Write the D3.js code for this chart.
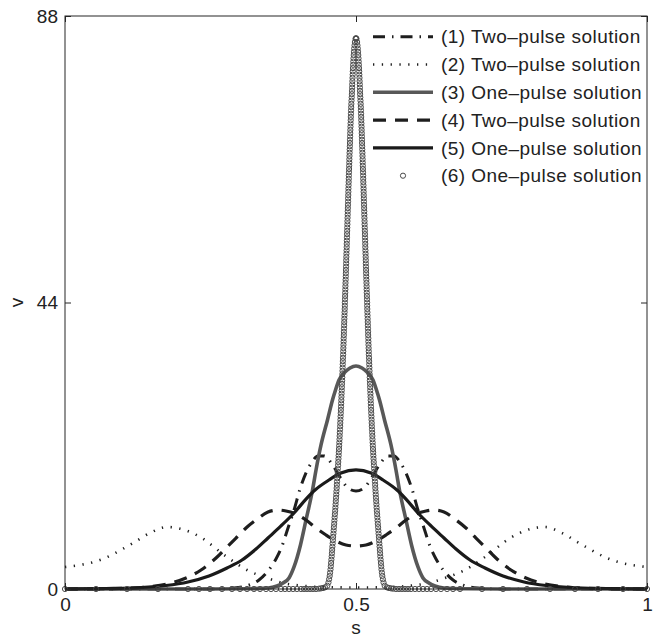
<!DOCTYPE html>
<html>
<head>
<meta charset="utf-8">
<script src="https://cdn.jsdelivr.net/npm/d3@7"></script>
<style>
  html, body { margin: 0; padding: 0; background: #fff; }
  svg { display: block; font-family: "Liberation Sans", Arial, Helvetica, sans-serif; }
</style>
</head>
<body>
<svg id="chart" width="657" height="638"></svg>
<script>
// ---- axis ticks ----
const xTicks = [0, 0.5, 1];
const xTickLabels = ["0", "0.5", "1"];
const yTicks = [0, 44, 88];
const yTickLabels = ["0", "44", "88"];

// ---- legend entries ----
const legendLabels = [
  "(1) Two\u2013pulse solution",
  "(2) Two\u2013pulse solution",
  "(3) One\u2013pulse solution",
  "(4) Two\u2013pulse solution",
  "(5) One\u2013pulse solution",
  "(6) One\u2013pulse solution"
];

// ---- profiles v(s), as [s, v] pairs ----
const twoPulse1 = [
  [0, 0], [0.2509, 0], [0.2904, 0.15], [0.3144, 0.54], [0.3333, 1.38], [0.3488, 2.76],
  [0.3625, 4.61], [0.3729, 6.60], [0.3832, 9.37], [0.3935, 12.13], [0.4038, 15.36],
  [0.4141, 17.82], [0.4244, 19.51], [0.4347, 20.43], [0.4450, 20.43], [0.4588, 19.20],
  [0.4725, 17.20], [0.4863, 15.51], [0.5, 15.05], [0.5137, 15.51], [0.5275, 17.20],
  [0.5412, 19.20], [0.5550, 20.43], [0.5653, 20.43], [0.5756, 19.51], [0.5859, 17.82],
  [0.5962, 15.36], [0.6065, 12.13], [0.6168, 9.37], [0.6271, 6.60], [0.6375, 4.61],
  [0.6512, 2.76], [0.6667, 1.38], [0.6856, 0.54], [0.7096, 0.15], [0.7491, 0], [1, 0]
];

const twoPulse2 = [
  [0, 3.38], [0.0601, 4.45], [0.1168, 7.06], [0.1460, 8.60], [0.1753, 9.52], [0.2062, 9.06],
  [0.2320, 7.99], [0.2784, 4.91], [0.3127, 2.92], [0.3471, 1.69], [0.3746, 0.92],
  [0.4038, 0.54], [0.4381, 0.31], [0.5, 0.23], [0.5619, 0.31], [0.5962, 0.54],
  [0.6254, 0.92], [0.6529, 1.69], [0.6873, 2.92], [0.7216, 4.91], [0.7680, 7.99],
  [0.7938, 9.06], [0.8247, 9.52], [0.8540, 8.60], [0.8832, 7.06], [0.9399, 4.45], [1, 3.38]
];

const onePulse3 = [
  [0, 0], [0.25, 0], [0.311, 0.03], [0.3488, 0.15], [0.3643, 0.46], [0.3746, 0.92],
  [0.3849, 1.69], [0.3935, 3.38], [0.4046, 6.76], [0.4141, 10.60], [0.4253, 15.20],
  [0.4313, 18.28], [0.4399, 22.12], [0.4510, 25.96], [0.4596, 29.03], [0.4648, 30.56],
  [0.4708, 32.10], [0.4811, 33.33], [0.4897, 33.94], [0.5, 34.25], [0.5103, 33.94],
  [0.5189, 33.33], [0.5292, 32.10], [0.5352, 30.56], [0.5404, 29.03], [0.5490, 25.96],
  [0.5601, 22.12], [0.5687, 18.28], [0.5747, 15.20], [0.5859, 10.60], [0.5954, 6.76],
  [0.6065, 3.38], [0.6151, 1.69], [0.6254, 0.92], [0.6357, 0.46], [0.6512, 0.15],
  [0.689, 0.03], [0.75, 0], [1, 0]
];

const twoPulse4 = [
  [0, 0], [0.0533, 0], [0.1048, 0.11], [0.1478, 0.38], [0.1821, 0.92], [0.2079, 1.69],
  [0.2337, 2.92], [0.2595, 4.76], [0.2766, 6.30], [0.2938, 7.83], [0.3110, 9.37],
  [0.3282, 10.60], [0.3488, 11.83], [0.3660, 12.13], [0.3797, 11.98], [0.3969, 11.52],
  [0.4141, 10.60], [0.4313, 9.37], [0.4485, 8.29], [0.4656, 7.37], [0.4828, 6.76],
  [0.5, 6.60], [0.5172, 6.76], [0.5344, 7.37], [0.5515, 8.29], [0.5687, 9.37],
  [0.5859, 10.60], [0.6031, 11.52], [0.6203, 11.98], [0.6340, 12.13], [0.6512, 11.83],
  [0.6718, 10.60], [0.6890, 9.37], [0.7062, 7.83], [0.7234, 6.30], [0.7405, 4.76],
  [0.7663, 2.92], [0.7921, 1.69], [0.8179, 0.92], [0.8522, 0.38], [0.8952, 0.11],
  [0.9467, 0], [1, 0]
];

const onePulse5 = [
  [0, 0], [0.0704, 0.08], [0.1306, 0.23], [0.1735, 0.54], [0.2113, 1.08], [0.2474, 2.0],
  [0.2784, 3.23], [0.3041, 4.45], [0.3282, 6.14], [0.3488, 7.83], [0.3711, 9.68],
  [0.3935, 11.67], [0.4141, 13.80], [0.4296, 15.20], [0.4536, 16.74], [0.4742, 17.80],
  [0.5, 18.28], [0.5258, 17.80], [0.5464, 16.74], [0.5704, 15.20], [0.5859, 13.80],
  [0.6065, 11.67], [0.6289, 9.68], [0.6512, 7.83], [0.6718, 6.14], [0.6959, 4.45],
  [0.7216, 3.23], [0.7526, 2.0], [0.7887, 1.08], [0.8265, 0.54], [0.8694, 0.23],
  [0.9296, 0.08], [1, 0]
];

// (6): mesh points of the narrow one-pulse solution
const ringPeak = [[0.5, 84.6]];
const ringLevels = [
  84.5, 84, 83.5, 83, 82.5, 82, 81.5, 81, 80.5, 80,
  79.5, 79, 78.5, 78, 77.5, 77, 76.5, 76, 75.5, 75,
  74.5, 74, 73.5, 73, 72.5, 72, 71.5, 71, 70.5, 70,
  69.5, 69, 68.5, 68, 67.5, 67, 66.5, 66, 65.5, 65,
  64.5, 64, 63.5, 63, 62.5, 62, 61.5, 61, 60.5, 60,
  59.5, 59, 58.5, 58, 57.5, 57, 56.5, 56, 55.5, 55,
  54.5, 54, 53.5, 53, 52.5, 52, 51.5, 51, 50.5, 50,
  49.5, 49, 48.5, 48, 47.5, 47, 46.5, 46, 45.5, 45,
  44.5, 44, 43.5, 43, 42.5, 42, 41.5, 41, 40.5, 40,
  39.5, 39, 38.5, 38, 37.5, 37, 36.5, 36, 35.5, 35,
  34.5, 34, 33.5, 33, 32.5, 32, 31.5, 31, 30.5, 30,
  29.5, 29, 28.5, 28, 27.5, 27, 26.5, 26, 25.5, 25,
  24.5, 24, 23.5, 23, 22.5, 22, 21.5, 21, 20.5, 20,
  19.5, 19, 18.5, 18, 17.5, 17, 16.5, 16, 15.5, 15,
  14.5, 14, 13.5, 13, 12.5, 12, 11.5, 11, 10.5, 10,
  9.5, 9, 8.5, 8, 7.5, 7, 6.5, 6, 5.5, 5,
  4.5, 4, 3.5, 3, 2.5, 2, 1.5, 1, 0.5
];
const ringLeftS = [
  .4992, .4981, .4975, .4969, .4965, .4961, .4957, .4954, .4951, .4948,
  .4945, .4943, .4940, .4938, .4935, .4933, .4931, .4929, .4926, .4923,
  .4920, .4917, .4915, .4913, .4911, .4909, .4907, .4905, .4903, .4901,
  .4899, .4897, .4896, .4894, .4892, .4890, .4888, .4886, .4885, .4883,
  .4881, .4879, .4877, .4876, .4874, .4872, .4870, .4869, .4867, .4865,
  .4864, .4862, .4860, .4858, .4857, .4855, .4853, .4852, .4850, .4848,
  .4846, .4845, .4843, .4841, .4840, .4838, .4836, .4834, .4832, .4831,
  .4829, .4827, .4826, .4824, .4822, .4820, .4818, .4817, .4815, .4813,
  .4811, .4809, .4808, .4806, .4804, .4802, .4800, .4798, .4796, .4794,
  .4792, .4791, .4788, .4787, .4785, .4783, .4781, .4779, .4776, .4774,
  .4772, .4770, .4768, .4766, .4764, .4762, .4759, .4757, .4755, .4752,
  .4750, .4748, .4745, .4743, .4740, .4738, .4735, .4733, .4730, .4728,
  .4725, .4722, .4719, .4717, .4714, .4711, .4708, .4705, .4702, .4699,
  .4695, .4692, .4688, .4685, .4681, .4678, .4674, .4671, .4668, .4664,
  .4661, .4657, .4653, .4649, .4646, .4642, .4637, .4633, .4629, .4625,
  .4620, .4616, .4612, .4607, .4603, .4599, .4594, .4590, .4586, .4582,
  .4577, .4572, .4567, .4562, .4555, .4548, .4538, .4527, .4507
];
const ringRightS = [
  .5008, .5019, .5025, .5031, .5035, .5039, .5043, .5046, .5049, .5052,
  .5055, .5057, .5060, .5062, .5065, .5067, .5069, .5071, .5074, .5077,
  .5080, .5083, .5085, .5087, .5089, .5091, .5093, .5095, .5097, .5099,
  .5101, .5103, .5104, .5106, .5108, .5110, .5112, .5114, .5115, .5117,
  .5119, .5121, .5123, .5124, .5126, .5128, .5130, .5131, .5133, .5135,
  .5136, .5138, .5140, .5142, .5143, .5145, .5147, .5148, .5150, .5152,
  .5154, .5155, .5157, .5159, .5160, .5162, .5164, .5166, .5168, .5169,
  .5171, .5173, .5174, .5176, .5178, .5180, .5182, .5183, .5185, .5187,
  .5189, .5191, .5192, .5194, .5196, .5198, .5200, .5202, .5204, .5206,
  .5208, .5209, .5212, .5213, .5215, .5217, .5219, .5221, .5224, .5226,
  .5228, .5230, .5232, .5234, .5236, .5238, .5241, .5243, .5245, .5248,
  .5250, .5252, .5255, .5257, .5260, .5262, .5265, .5267, .5270, .5272,
  .5275, .5278, .5281, .5283, .5286, .5289, .5292, .5295, .5298, .5301,
  .5305, .5308, .5312, .5315, .5319, .5322, .5326, .5329, .5332, .5336,
  .5339, .5343, .5347, .5351, .5354, .5358, .5363, .5367, .5371, .5375,
  .5380, .5384, .5388, .5393, .5397, .5401, .5406, .5410, .5414, .5418,
  .5423, .5428, .5433, .5438, .5445, .5452, .5462, .5473, .5493
];
const ringBaseLeft = [
  [0.4467, 0.25], [0.4433, 0.15], [0.4399, 0.1], [0.4364, 0.05], [0.4313, 0],
  [0.4261, 0], [0.4210, 0], [0.4158, 0], [0.4107, 0], [0.4055, 0], [0.3986, 0],
  [0.3918, 0], [0.3849, 0], [0.3780, 0], [0.3711, 0], [0.3625, 0], [0.3540, 0],
  [0.3454, 0], [0.3351, 0], [0.3247, 0], [0.3127, 0], [0.3007, 0], [0.2869, 0],
  [0.2698, 0], [0.2491, 0], [0.2302, 0], [0.2113, 0], [0.1598, 0], [0.1065, 0],
  [0.0533, 0], [0, 0]
];
const ringBaseRight = [
  [0.5533, 0.25], [0.5567, 0.15], [0.5601, 0.1], [0.5636, 0.05], [0.5687, 0],
  [0.5739, 0], [0.5790, 0], [0.5842, 0], [0.5893, 0], [0.5945, 0], [0.6014, 0],
  [0.6082, 0], [0.6151, 0], [0.6220, 0], [0.6289, 0], [0.6375, 0], [0.6460, 0],
  [0.6564, 0], [0.6667, 0], [0.6787, 0], [0.7165, 0], [0.7526, 0], [0.7938, 0],
  [0.8333, 0], [0.8763, 0], [0.9158, 0], [0.9588, 0], [1, 0]
];

// ---- layout ----
const svg = d3.select("#chart");
const plot = { left: 65, right: 647, top: 16, bottom: 589 };
const x = d3.scaleLinear().domain([0, 1]).range([plot.left, plot.right]);
const y = d3.scaleLinear().domain([0, 88]).range([plot.bottom, plot.top]);
const axisColor = "#262626";
const fontSize = 19;

// ---- line styles for the five curves ----
const lineSeries = [
  { data: twoPulse1, color: "#1e1e1e", width: 3,   dash: "12,7,1.5,7" },
  { data: twoPulse2, color: "#1e1e1e", width: 2.6, dash: "1.3,7.5" },
  { data: onePulse3, color: "#585858", width: 3.6, dash: null },
  { data: twoPulse4, color: "#1e1e1e", width: 3.2, dash: "13,9" },
  { data: onePulse5, color: "#1a1a1a", width: 3.2, dash: null }
];
const ringStyle = { r: 2.6, stroke: "#4a4a4a", width: 1 };

const line = d3.line()
  .x(d => x(d[0]))
  .y(d => y(d[1]))
  .curve(d3.curveMonotoneX);

const gCurves = svg.append("g");
lineSeries.forEach(s => {
  gCurves.append("path")
    .attr("d", line(s.data))
    .attr("fill", "none")
    .attr("stroke", s.color)
    .attr("stroke-width", s.width)
    .attr("stroke-dasharray", s.dash)
    .attr("stroke-linejoin", "round");
});

// mesh markers of solution (6)
const ringPoints = []
  .concat(ringPeak)
  .concat(ringLevels.map((v, i) => [ringLeftS[i], v]))
  .concat(ringLevels.map((v, i) => [ringRightS[i], v]))
  .concat(ringBaseLeft)
  .concat(ringBaseRight);

svg.append("g").selectAll("circle")
  .data(ringPoints)
  .join("circle")
  .attr("cx", d => x(d[0]))
  .attr("cy", d => y(d[1]))
  .attr("r", ringStyle.r)
  .attr("fill", "none")
  .attr("stroke", ringStyle.stroke)
  .attr("stroke-width", ringStyle.width);

// ---- axes box with inward ticks ----
svg.append("rect")
  .attr("x", plot.left).attr("y", plot.top)
  .attr("width", plot.right - plot.left).attr("height", plot.bottom - plot.top)
  .attr("fill", "none").attr("stroke", axisColor).attr("stroke-width", 1);

const tickLen = 6;
const styleAxis = g => {
  g.select(".domain").remove();
  g.selectAll(".tick line").attr("stroke", axisColor).attr("stroke-width", 1);
  g.selectAll(".tick text").attr("fill", "#222").attr("font-size", fontSize)
    .attr("font-family", "'Liberation Sans', Arial, Helvetica, sans-serif");
};

svg.append("g")
  .attr("transform", `translate(0,${plot.bottom})`)
  .call(d3.axisBottom(x).tickValues(xTicks).tickFormat((d, i) => xTickLabels[i])
    .tickSizeInner(-tickLen).tickSizeOuter(0).tickPadding(9))
  .call(styleAxis);

svg.append("g")
  .attr("transform", `translate(0,${plot.top})`)
  .call(d3.axisTop(x).tickValues(xTicks).tickFormat("")
    .tickSizeInner(-tickLen).tickSizeOuter(0))
  .call(styleAxis);

svg.append("g")
  .attr("transform", `translate(${plot.left},0)`)
  .call(d3.axisLeft(y).tickValues(yTicks).tickFormat((d, i) => yTickLabels[i])
    .tickSizeInner(-tickLen).tickSizeOuter(0).tickPadding(7))
  .call(styleAxis);

svg.append("g")
  .attr("transform", `translate(${plot.right},0)`)
  .call(d3.axisRight(y).tickValues(yTicks).tickFormat("")
    .tickSizeInner(-tickLen).tickSizeOuter(0))
  .call(styleAxis);

// axis titles
svg.append("text")
  .attr("x", (plot.left + plot.right) / 2).attr("y", 634)
  .attr("text-anchor", "middle").attr("font-size", fontSize).attr("fill", "#222")
  .text("s");
svg.append("text")
  .attr("transform", `translate(23,${(plot.top + plot.bottom) / 2}) rotate(-90)`)
  .attr("text-anchor", "middle").attr("font-size", fontSize).attr("fill", "#222")
  .text("v");

// ---- legend ----
const legend = svg.append("g");
const legendTop = 36.7, legendStep = 27.8;
const sampleX0 = 373, sampleX1 = 433, textX = 441;
legendLabels.forEach((label, i) => {
  const ly = legendTop + i * legendStep;
  if (i < lineSeries.length) {
    const s = lineSeries[i];
    legend.append("line")
      .attr("x1", sampleX0).attr("x2", sampleX1).attr("y1", ly).attr("y2", ly)
      .attr("stroke", s.color).attr("stroke-width", s.width)
      .attr("stroke-dasharray", s.dash);
  } else {
    legend.append("circle")
      .attr("cx", (sampleX0 + sampleX1) / 2).attr("cy", ly)
      .attr("r", ringStyle.r).attr("fill", "none")
      .attr("stroke", ringStyle.stroke).attr("stroke-width", ringStyle.width);
  }
  legend.append("text")
    .attr("x", textX).attr("y", ly).attr("dy", "0.35em")
    .attr("font-size", fontSize).attr("letter-spacing", "0.45px").attr("fill", "#222")
    .text(label);
});
</script>
</body>
</html>
